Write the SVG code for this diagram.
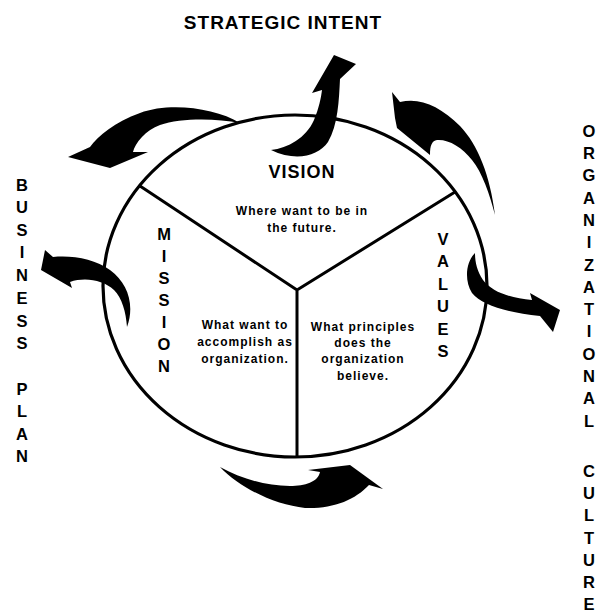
<svg xmlns="http://www.w3.org/2000/svg" width="596" height="612" viewBox="0 0 596 612">
  <style>
    text { font-family: "Liberation Sans", Arial, Helvetica, sans-serif; font-weight: bold; fill: #000; }
    .title { font-size: 19px; letter-spacing: 1px; }
    .head { font-size: 18px; letter-spacing: 1px; text-anchor: middle; }
    .col { font-size: 16.5px; text-anchor: middle; }
    .body { font-size: 12px; letter-spacing: 1px; text-anchor: middle; }
    .ring { fill: none; stroke: #000; stroke-width: 3.2; }
    .divider { fill: none; stroke: #000; stroke-width: 3; }
    .arrow { fill: #000; stroke: none; }
  </style>

  <rect width="596" height="612" fill="#fff"/>

  <!-- outer ring and the three dividing spokes -->
  <g id="ring">
    <ellipse class="ring" cx="295" cy="286" rx="192" ry="171"/>
    <path class="divider" d="M140 186 L297 290 L455 192 M297 290 L297 457"/>
  </g>

  <g id="vision">
    <text class="head" x="302" y="178">VISION</text>
    <text class="body" x="302" y="215">Where want to be in</text>
    <text class="body" x="302" y="232">the future.</text>
  </g>

  <g id="mission">
    <text class="col" x="164" y="240">M</text>
    <text class="col" x="164" y="262">I</text>
    <text class="col" x="164" y="284">S</text>
    <text class="col" x="164" y="306">S</text>
    <text class="col" x="164" y="328">I</text>
    <text class="col" x="164" y="350">O</text>
    <text class="col" x="164" y="372">N</text>
    <text class="body" x="245" y="329">What want to</text>
    <text class="body" x="245" y="346">accomplish as</text>
    <text class="body" x="245" y="363">organization.</text>
  </g>

  <g id="values">
    <text class="col" x="443" y="245">V</text>
    <text class="col" x="443" y="267">A</text>
    <text class="col" x="443" y="290">L</text>
    <text class="col" x="443" y="312">U</text>
    <text class="col" x="443" y="335">E</text>
    <text class="col" x="443" y="357">S</text>
    <text class="body" x="363" y="331">What principles</text>
    <text class="body" x="363" y="347">does the</text>
    <text class="body" x="363" y="363">organization</text>
    <text class="body" x="363" y="380">believe.</text>
  </g>

  <g id="strategic-intent">
    <text class="title" x="283" y="29" text-anchor="middle">STRATEGIC INTENT</text>
  </g>

  <g id="business-plan">
    <text class="col" x="22" y="191">B</text>
    <text class="col" x="22" y="213">U</text>
    <text class="col" x="22" y="236">S</text>
    <text class="col" x="22" y="258">I</text>
    <text class="col" x="22" y="281">N</text>
    <text class="col" x="22" y="304">E</text>
    <text class="col" x="22" y="327">S</text>
    <text class="col" x="22" y="349">S</text>
    <text class="col" x="22" y="395">P</text>
    <text class="col" x="22" y="417">L</text>
    <text class="col" x="22" y="440">A</text>
    <text class="col" x="22" y="462">N</text>
  </g>

  <g id="organizational-culture">
    <text class="col" x="589" y="137">O</text>
    <text class="col" x="589" y="159">R</text>
    <text class="col" x="589" y="181">G</text>
    <text class="col" x="589" y="204">A</text>
    <text class="col" x="589" y="226">N</text>
    <text class="col" x="589" y="248">I</text>
    <text class="col" x="589" y="271">Z</text>
    <text class="col" x="589" y="293">A</text>
    <text class="col" x="589" y="315">T</text>
    <text class="col" x="589" y="337">I</text>
    <text class="col" x="589" y="360">O</text>
    <text class="col" x="589" y="382">N</text>
    <text class="col" x="589" y="404">A</text>
    <text class="col" x="589" y="427">L</text>
    <text class="col" x="589" y="477">C</text>
    <text class="col" x="589" y="499">U</text>
    <text class="col" x="589" y="521">L</text>
    <text class="col" x="589" y="544">T</text>
    <text class="col" x="589" y="566">U</text>
    <text class="col" x="589" y="588">R</text>
    <text class="col" x="589" y="610">E</text>
  </g>

  <!-- curved block arrows around the ring -->
  <g id="connectors">
    <!-- up to strategic intent -->
    <path class="arrow" d="M271 150 C288 148 306 138 314 120 C319 108 321 98 322 90 L312 93 L334 55 L356 64 L340 79 C339 100 338 125 328 142 C318 156 296 162 271 150 Z"/>
    <!-- out to business plan, upper left -->
    <path class="arrow" d="M240 123 C215 108 170 102 140 113 C115 122 98 136 90 147 L68 157 L110 168 L148 152 L133 152 C135 143 146 130 160 125 C180 118 215 118 240 123 Z"/>
    <!-- back in from organizational culture, upper right -->
    <path class="arrow" d="M392 92 L400 102 C420 97 440 106 460 126 C478 145 490 175 495 215 C490 195 482 172 472 160 C462 147 448 139 437 140 C432 141 430 145 430 155 L397 128 L395 118 Z"/>
    <!-- out to organizational culture, right -->
    <path class="arrow" d="M475 253 C466 262 464 280 472 293 C482 305 505 312 540 316 L553 332 L560 310 L530 293 L532 300 C510 298 492 292 483 280 C477 271 475 262 475 253 Z"/>
    <!-- out to business plan, left -->
    <path class="arrow" d="M127 327 C135 305 128 283 110 270 C95 259 72 255 53 257 L45 250 L41 270 L72 288 L70 282 C85 277 103 280 114 290 C122 298 126 312 127 327 Z"/>
    <!-- along the bottom of the ring -->
    <path class="arrow" d="M220 467 C240 488 275 505 305 508 C333 509 355 500 369 485 L383 489 L350 465 L308 470 L320 472 C318 482 305 486 290 486 C265 486 240 478 220 467 Z"/>
  </g>
</svg>
